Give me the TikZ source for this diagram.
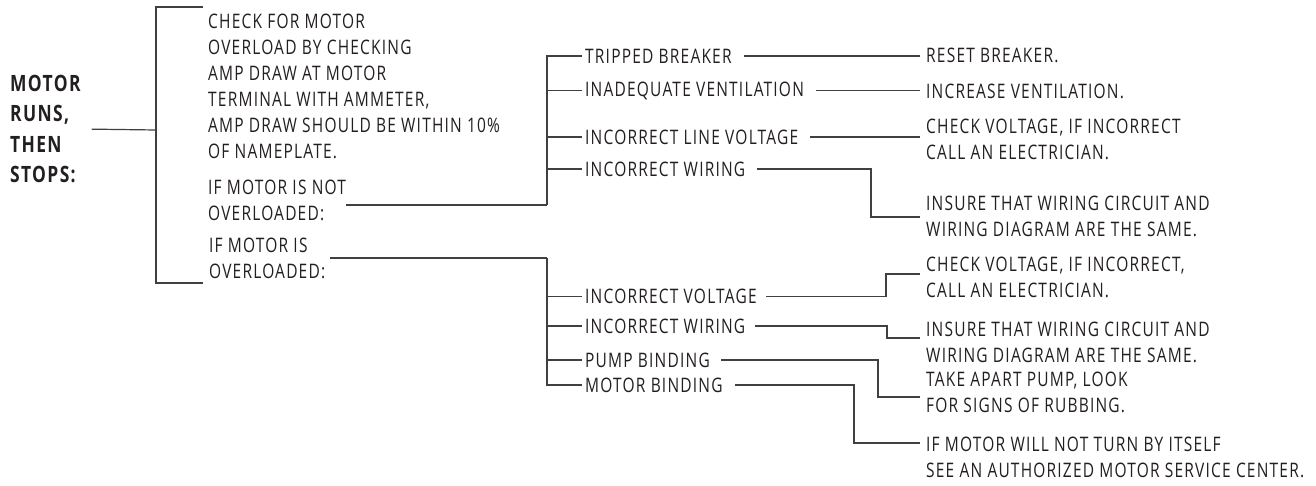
\documentclass[tikz,border=0pt]{standalone}
\usepackage{fontspec}
\setmainfont{Open Sans}[FakeStretch=0.775,LetterSpace=6]
\definecolor{ink}{HTML}{231F20}
\definecolor{wirec}{HTML}{404040}
\newcommand{\lbl}{\fontsize{20}{25.5}\selectfont}
\newcommand{\lblw}{\fontsize{20}{26}\selectfont}
\newcommand{\ttl}{\fontsize{22.5}{30.5}\selectfont\bfseries}

\begin{document}
\begin{tikzpicture}[x=1pt,y=-1pt,
  txt/.style={inner sep=0,anchor=west,align=left,text=ink,font=\lbl},
  wire/.style={draw=wirec,line width=1.2pt},
  link/.style={wire,shorten <=12pt,shorten >=6pt}]
  \useasboundingbox (0,0) rectangle (1316,486);
  \node[txt,font=\ttl] (title) at (10,129) {MOTOR\\RUNS,\\THEN\\STOPS:};
  \node[txt,font=\lblw] (chk) at (208,86) {CHECK FOR MOTOR\\OVERLOAD BY CHECKING\\AMP DRAW AT MOTOR\\TERMINAL WITH AMMETER,\\AMP DRAW SHOULD BE WITHIN 10\%\\OF NAMEPLATE.};
  \node[txt,font=\lblw] (notov) at (208,200.5) {IF MOTOR IS NOT\\OVERLOADED:};
  \node[txt,font=\lblw] (isov) at (209,258) {IF MOTOR IS\\OVERLOADED:};
  \coordinate (bus0) at (156,130);
  \coordinate (brt) at (156,7);
  \coordinate (brb) at (156,283);
  \coordinate (tipt) at (203,7);
  \coordinate (tipb) at (203,283);
  \draw[wire,shorten <=11pt] (title.east) -- (bus0);
  \draw[wire] (tipt) -- (brt) -- (brb) -- (tipb);
  \node[txt] (tb) at (585,56) {TRIPPED BREAKER};
  \node[txt] (iv) at (585,90.5) {INADEQUATE VENTILATION};
  \node[txt] (lv) at (585,137) {INCORRECT LINE VOLTAGE};
  \node[txt] (iw) at (585,169) {INCORRECT WIRING};
  \node[txt] (iv2) at (585,296.5) {INCORRECT VOLTAGE};
  \node[txt] (iw2) at (585,326) {INCORRECT WIRING};
  \node[txt] (pb) at (585,360) {PUMP BINDING};
  \node[txt] (mb) at (585,385) {MOTOR BINDING};
  \coordinate (nb) at (547,205);
  \coordinate (ob) at (547,258);
  \draw[wire] (nb -| notov.east) -- (nb);
  \draw[wire,shorten <=5pt] (isov.east) -- (ob);
  \draw[wire,shorten >=3pt] (nb) |- (tb.west);
  \draw[wire,shorten >=3pt] (nb |- iv.west) -- (iv.west);
  \draw[wire,shorten >=3pt] (nb |- lv.west) -- (lv.west);
  \draw[wire,shorten >=3pt] (nb |- iw.west) -- (iw.west);
  \draw[wire,shorten >=3pt] (ob) |- (mb.west);
  \draw[wire,shorten >=3pt] (ob |- iv2.west) -- (iv2.west);
  \draw[wire,shorten >=3pt] (ob |- iw2.west) -- (iw2.west);
  \draw[wire,shorten >=3pt] (ob |- pb.west) -- (pb.west);
  \node[txt] (rb) at (926,55) {RESET BREAKER.};
  \node[txt] (incv) at (926,91.5) {INCREASE VENTILATION.};
  \node[txt,font=\lblw] (cv1) at (926,139) {CHECK VOLTAGE, IF INCORRECT\\CALL AN ELECTRICIAN.};
  \node[txt,font=\lblw] (is1) at (926,216) {INSURE THAT WIRING CIRCUIT AND\\WIRING DIAGRAM ARE THE SAME.};
  \node[txt] (cv2) at (926,277.5) {CHECK VOLTAGE, IF INCORRECT,\\CALL AN ELECTRICIAN.};
  \node[txt] (is2) at (926,342.5) {INSURE THAT WIRING CIRCUIT AND\\WIRING DIAGRAM ARE THE SAME.};
  \node[txt] (tap) at (926,392.5) {TAKE APART PUMP, LOOK\\FOR SIGNS OF RUBBING.};
  \node[txt] (see) at (926,457.5) {IF MOTOR WILL NOT TURN BY ITSELF\\SEE AN AUTHORIZED MOTOR SERVICE CENTER.};
  \coordinate (k1) at (871,217);
  \coordinate (k2) at (886,274);
  \coordinate (k3) at (887,338);
  \coordinate (k4) at (878,397);
  \coordinate (k5) at (854,443);
  \draw[link] (tb.east) -- (tb.east -| rb.west);
  \draw[link] (iv.east) -- (iv.east -| incv.west);
  \draw[link] (lv.east) -- (lv.east -| cv1.west);
  \draw[link] (iw.east) -| (k1) -- (k1 -| is1.west);
  \draw[link,shorten <=9pt] (iv2.east) -| (k2) -- (k2 -| cv2.west);
  \draw[link,shorten <=10pt] (iw2.east) -| (k3) -- (k3 -| is2.west);
  \draw[link,shorten <=11pt] (pb.east) -| (k4) -- (k4 -| tap.west);
  \draw[link] (mb.east) -| (k5) -- (k5 -| see.west);
\end{tikzpicture}
\end{document}
